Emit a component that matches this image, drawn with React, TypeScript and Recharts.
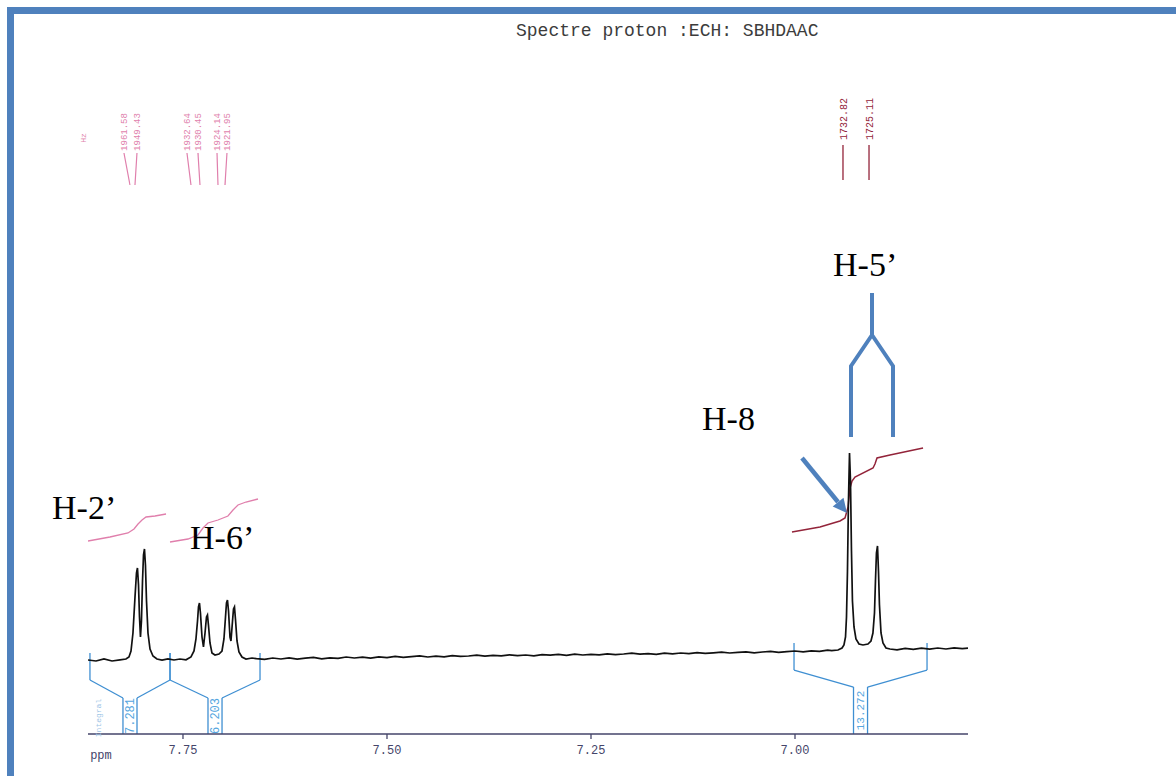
import {
  ComposedChart,
  Line,
  ReferenceDot,
  ReferenceLine,
  XAxis,
  YAxis,
} from "recharts";

const W = 1176;
const H = 776;

const ppmTicks = [7.75, 7.5, 7.25, 7.0];

// spectrum, [ppm, intensity], left to right
const leftBaseline: [number, number][] = [
  [7.8664, 0.5], [7.8566, 0], [7.8468, 1], [7.837, 0], [7.8272, 0.6], [7.8199, 1], [7.8162, 2],
];
const h2Doublet: [number, number][] = [
  [7.8137, 5], [7.8113, 14], [7.8088, 32], [7.807, 44], [7.8058, 46.5], [7.8045, 38],
  [7.8033, 22], [7.8021, 12], [7.8009, 20], [7.7996, 40], [7.7984, 53], [7.7972, 56],
  [7.796, 48], [7.7947, 30], [7.7929, 14], [7.7904, 6], [7.7868, 2.5],
];
const gapH2H6: [number, number][] = [
  [7.7819, 1], [7.7757, 0.4], [7.7684, 1.1], [7.761, 0.5], [7.7537, 1], [7.7463, 0.6],
];
const h6Multiplet: [number, number][] = [
  [7.7402, 2], [7.7365, 5], [7.7341, 11], [7.7322, 20], [7.731, 27], [7.7298, 29],
  [7.7286, 24], [7.7267, 12], [7.7249, 7], [7.723, 14], [7.7212, 22], [7.72, 23],
  [7.7188, 18], [7.7169, 9], [7.7145, 4], [7.7108, 3], [7.7059, 3.5], [7.7022, 5],
  [7.6998, 11], [7.6979, 22], [7.6967, 29], [7.6955, 30.5], [7.6942, 25], [7.6924, 12],
  [7.6912, 10], [7.6893, 20], [7.6881, 26], [7.6869, 27], [7.6857, 21], [7.6838, 10],
  [7.6814, 4.5], [7.6777, 2], [7.6728, 1], [7.6654, 1.5],
];
const midBaseline: [number, number][] = [
  [7.66, 1.2], [7.65, 0.8], [7.64, 1.5], [7.63, 1.0], [7.62, 1.6], [7.61, 0.9], [7.6, 1.4],
  [7.59, 1.8], [7.58, 1.1], [7.57, 1.6], [7.56, 1.3], [7.55, 2.0], [7.54, 1.5], [7.53, 1.9],
  [7.52, 1.4], [7.51, 2.1], [7.5, 1.7], [7.49, 2.3], [7.48, 1.8], [7.47, 2.2], [7.46, 2.6],
  [7.45, 2.0], [7.44, 2.4], [7.43, 2.1], [7.42, 2.7], [7.41, 2.3], [7.4, 2.5], [7.39, 2.9],
  [7.38, 2.4], [7.37, 2.8], [7.36, 2.6], [7.35, 3.1], [7.34, 2.7], [7.33, 3.0], [7.32, 2.6],
  [7.31, 3.2], [7.3, 2.9], [7.29, 3.3], [7.28, 2.8], [7.27, 3.4], [7.26, 3.0], [7.25, 3.3],
  [7.24, 3.1], [7.23, 3.6], [7.22, 3.2], [7.21, 3.5], [7.2, 3.9], [7.19, 3.4], [7.18, 3.7],
  [7.17, 3.3], [7.16, 3.9], [7.15, 3.6], [7.14, 4.0], [7.13, 3.7], [7.12, 4.2], [7.11, 3.8],
  [7.1, 4.1], [7.09, 4.4], [7.08, 4.0], [7.07, 4.3], [7.06, 4.6], [7.05, 4.1], [7.04, 4.5],
  [7.03, 4.8], [7.02, 4.3], [7.01, 4.7], [7.0, 5.0], [6.99, 4.6], [6.98, 5.1], [6.97, 4.8],
  [6.96, 5.4], [6.955, 5.2],
];
const h5h8Peaks: [number, number][] = [
  [6.9473, 5.5], [6.9424, 6.5], [6.94, 8], [6.9381, 12], [6.9369, 22], [6.9357, 45],
  [6.9345, 80], [6.9332, 104], [6.932, 90], [6.9308, 55], [6.9296, 30], [6.9277, 17],
  [6.9253, 11], [6.9216, 8.5], [6.9167, 8], [6.9106, 8.5], [6.9069, 10], [6.9045, 14],
  [6.9026, 24], [6.9014, 40], [6.9002, 54], [6.8989, 57.5], [6.8977, 45], [6.8965, 28],
  [6.8946, 14], [6.8922, 9], [6.8885, 6.5], [6.8836, 6],
];
const rightBaseline: [number, number][] = [
  [6.875, 5.6], [6.865, 6.3], [6.855, 5.8], [6.845, 6.4], [6.835, 5.9], [6.825, 6.5],
  [6.815, 6.0], [6.805, 6.6], [6.795, 6.2], [6.788, 6.4],
];

// integral traces
const integralH2: [number, number][] = [
  [7.8664, 60], [7.8395, 62], [7.8174, 64], [7.81, 66], [7.8051, 68.5], [7.8002, 70.5],
  [7.7953, 72], [7.7843, 72.5], [7.7708, 73.5],
];
const integralH6: [number, number][] = [
  [7.7659, 59.5], [7.7439, 61], [7.7316, 63], [7.7255, 66.5], [7.7194, 69], [7.7071, 70.5],
  [7.6949, 72.5], [7.6887, 75.5], [7.6826, 78], [7.6728, 79.5], [7.6581, 81],
];
const integralH5: [number, number][] = [
  [7.0037, 64.5], [6.9694, 67], [6.9449, 70], [6.9387, 71.5], [6.935, 77], [6.9326, 86.5],
  [6.9301, 90], [6.9265, 92], [6.9044, 96.5], [6.902, 98.5], [6.8995, 101.5], [6.8836, 103],
  [6.8431, 106.5],
];

// integration ranges and values
const integralFrom = [7.864, 7.7659, 7.0012];
const integralTo = [7.7659, 7.6556, 6.8382];
const integralValues = ["7.281", "6.203", "13.272"];

// peak picking (Hz)
const leftPeakHz = ["1961.58", "1949.43", "1932.64", "1930.45", "1924.14", "1921.95"];
const leftPeakPpm = [7.8223, 7.8064, 7.7451, 7.7316, 7.7083, 7.6961];
const leftPeakFootPpm = [7.815, 7.8088, 7.7402, 7.7292, 7.7071, 7.6985];
const rightPeakHz = ["1732.82", "1725.11"];
const rightPeakPpm = [6.9412, 6.9093];

const toRows = (pts: [number, number][]) => pts.map(([ppm, v]) => ({ ppm, v }));

const spectrum = toRows([
  ...leftBaseline,
  ...h2Doublet,
  ...gapH2H6,
  ...h6Multiplet,
  ...midBaseline,
  ...h5h8Peaks,
  ...rightBaseline,
]);

const BLUE = "#3f8fd2";
const PINK = "#e07fac";
const WINE = "#93243a";
const MONO = "Liberation Mono, DejaVu Sans Mono, monospace";
const AXIS = -36.5;

function rotLabel(value: string, fill: string, fontSize: number) {
  return { value, position: "center" as const, angle: -90, fill, fontSize, fontFamily: MONO };
}

export default function App() {
  const brackets = integralFrom.map((from, i) => {
    const to = integralTo[i];
    const mid = (from + to) / 2;
    const half = 0.0086;
    const left = from > 7.5;
    const top = left ? 4 : 9;
    const knee = left ? -9.5 : -4.5;
    const foot = left ? -18.5 : -13;
    const segs = [
      [from, top, from, knee],
      [from, knee, mid + half, foot],
      [mid + half, foot, mid + half, AXIS],
      [to, top, to, knee],
      [to, knee, mid - half, foot],
      [mid - half, foot, mid - half, AXIS],
    ];
    return { segs, mid, labelY: (foot + AXIS) / 2, value: integralValues[i], size: left ? 12 : 11 };
  });

  return (
    <div
      style={{
        position: "absolute",
        left: 0,
        top: 0,
        width: W,
        height: H,
        overflow: "hidden",
        background: "#fff",
      }}
    >
      <div
        style={{
          position: "absolute",
          left: 7,
          top: 7,
          width: W - 7,
          height: H - 7,
          borderLeft: "7px solid #4f81bd",
          borderTop: "7px solid #4f81bd",
          boxSizing: "border-box",
        }}
      />
      <div style={{ position: "absolute", left: 0, top: 0 }}>
        <ComposedChart width={W} height={H} margin={{ top: 20, right: 208, bottom: 2, left: 88 }}>
          <XAxis
            type="number"
            dataKey="ppm"
            domain={[6.788, 7.8664]}
            reversed
            allowDataOverflow
            ticks={ppmTicks}
            interval={0}
            tickFormatter={(v: number) => v.toFixed(2)}
            height={40}
            tickSize={5}
            tickMargin={6}
            stroke="#45456a"
            strokeWidth={1.3}
            tick={{ fill: "#45456a", fontSize: 12, fontFamily: MONO }}
          />
          <YAxis type="number" domain={[AXIS, 320.5]} hide allowDataOverflow />

          {brackets.map((b, i) =>
            b.segs.map((s, j) => (
              <ReferenceLine
                key={`b${i}-${j}`}
                segment={[{ x: s[0], y: s[1] }, { x: s[2], y: s[3] }]}
                stroke={BLUE}
                strokeWidth={1.3}
                ifOverflow="visible"
              />
            ))
          )}
          {brackets.map((b, i) => (
            <ReferenceDot
              key={`bl${i}`}
              x={b.mid}
              y={b.labelY}
              r={0}
              fill="none"
              stroke="none"
              ifOverflow="visible"
              label={rotLabel(b.value, "#55a6e0", b.size)}
            />
          ))}
          <ReferenceDot
            x={7.8542}
            y={-28.5}
            r={0}
            fill="none"
            stroke="none"
            ifOverflow="visible"
            label={rotLabel("Integral", "#9cc4e6", 8)}
          />
          <ReferenceDot
            x={7.8505}
            y={-47}
            r={0}
            fill="none"
            stroke="none"
            ifOverflow="visible"
            label={{ value: "ppm", position: "center", fill: "#45456a", fontSize: 12, fontFamily: MONO }}
          />

          {leftPeakHz.map((hz, i) => (
            <ReferenceLine
              key={`lp${i}`}
              segment={[{ x: leftPeakPpm[i], y: 254 }, { x: leftPeakFootPpm[i], y: 238 }]}
              stroke={PINK}
              strokeWidth={1.2}
              ifOverflow="visible"
            />
          ))}
          {leftPeakHz.map((hz, i) => (
            <ReferenceDot
              key={`lpl${i}`}
              x={leftPeakPpm[i]}
              y={264.5}
              r={0}
              fill="none"
              stroke="none"
              ifOverflow="visible"
              label={rotLabel(hz, PINK, 9)}
            />
          ))}
          <ReferenceDot
            x={7.8719}
            y={261.5}
            r={0}
            fill="none"
            stroke="none"
            ifOverflow="visible"
            label={rotLabel("Hz", PINK, 8)}
          />
          {rightPeakHz.map((hz, i) => (
            <ReferenceLine
              key={`rp${i}`}
              segment={[{ x: rightPeakPpm[i], y: 258 }, { x: rightPeakPpm[i], y: 240.5 }]}
              stroke={WINE}
              strokeWidth={1.3}
              ifOverflow="visible"
            />
          ))}
          {rightPeakHz.map((hz, i) => (
            <ReferenceDot
              key={`rpl${i}`}
              x={rightPeakPpm[i]}
              y={271}
              r={0}
              fill="none"
              stroke="none"
              ifOverflow="visible"
              label={rotLabel(hz, WINE, 10)}
            />
          ))}

          <Line data={toRows(integralH2)} dataKey="v" stroke={PINK} strokeWidth={1.3} dot={false} isAnimationActive={false} />
          <Line data={toRows(integralH6)} dataKey="v" stroke={PINK} strokeWidth={1.3} dot={false} isAnimationActive={false} />
          <Line data={toRows(integralH5)} dataKey="v" stroke={WINE} strokeWidth={1.5} dot={false} isAnimationActive={false} />
          <Line data={spectrum} dataKey="v" stroke="#111" strokeWidth={1.7} dot={false} isAnimationActive={false} />
        </ComposedChart>
      </div>

      <svg width={W} height={H} style={{ position: "absolute", left: 0, top: 0, pointerEvents: "none" }}>
        <text x={516} y={36} fontFamily={MONO} fontSize={18} fill="#3c3c3c">
          Spectre proton :ECH: SBHDAAC
        </text>
        <g fontFamily="Liberation Serif, Times New Roman, serif" fontSize={34} fill="#000">
          <text x={52} y={519}>H-2’</text>
          <text x={190} y={549}>H-6’</text>
          <text x={702} y={430}>H-8</text>
          <text x={833} y={276}>H-5’</text>
        </g>
        <path
          d="M872 293 L872 335 L851 366 L851 437 M872 335 L893 366 L893 437"
          stroke="#4f81bd"
          strokeWidth={4}
          fill="none"
        />
        <line x1={802} y1={458} x2={838} y2={502} stroke="#4f81bd" strokeWidth={4.5} />
        <polygon points="847,513 832.7,506.6 843.5,497.8" fill="#4f81bd" />
      </svg>
    </div>
  );
}
